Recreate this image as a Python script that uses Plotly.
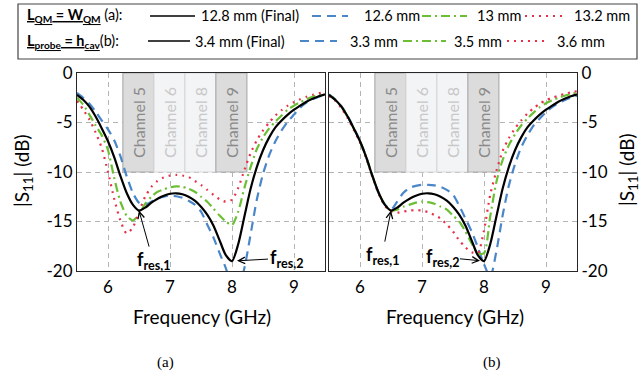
import plotly.graph_objects as go

W, H = 642, 372

# ---------------- data ----------------
freq = [5.5, 5.6, 5.7, 5.8, 5.9, 6.0, 6.1, 6.2, 6.3, 6.4, 6.5, 6.6, 6.7, 6.8, 6.9,
        7.0, 7.1, 7.2, 7.3, 7.4, 7.5, 7.6, 7.7, 7.8, 7.9, 8.0, 8.1, 8.2, 8.3, 8.4,
        8.5, 8.6, 8.7, 8.8, 8.9, 9.0, 9.1, 9.2, 9.3, 9.4, 9.5]

# Final design (same curve in both panels)
s11_final = [-2.2, -2.7, -3.4, -4.4, -5.6, -6.9, -8.5, -10.4, -12.1, -13.3, -13.9, -13.6, -13.1, -12.7, -12.4,
             -12.2, -12.15, -12.25, -12.5, -12.9, -13.5, -14.3, -15.4, -16.9, -18.4, -19.0, -17.3, -14.5, -11.7, -9.5,
             -7.8, -6.5, -5.5, -4.8, -4.2, -3.7, -3.3, -2.9, -2.6, -2.35, -2.15]

# (a) L_QM = W_QM
s11_a_126 = [-2.0, -2.5, -3.1, -3.9, -4.8, -5.7, -6.8, -8.4, -10.4, -12.1, -13.1, -13.3, -13.0, -12.7, -12.5,
             -12.4, -12.45, -12.6, -12.9, -13.3, -14.0, -15.3, -16.6, -18.2, -19.7, -21.5, -21.8, -19.7, -16.3, -12.8,
             -10.2, -8.3, -6.9, -5.8, -4.9, -4.2, -3.5, -3.0, -2.65, -2.4, -2.15]
s11_a_130 = [-2.5, -3.2, -4.2, -5.3, -6.3, -7.8, -10.6, -13.0, -14.4, -14.9, -14.3, -13.2, -12.5, -12.0, -11.75,
             -11.55, -11.45, -11.5, -11.7, -12.0, -12.5, -13.0, -13.7, -14.4, -15.0, -15.35, -14.0, -11.6, -9.5, -7.7,
             -6.5, -5.6, -4.9, -4.3, -3.7, -3.3, -2.95, -2.65, -2.4, -2.2, -2.05]
s11_a_132 = [-2.8, -3.7, -4.7, -6.0, -7.6, -10.0, -12.7, -14.9, -16.2, -15.6, -14.0, -12.5, -11.5, -10.9, -10.55,
             -10.35, -10.3, -10.35, -10.5, -10.9, -11.3, -11.8, -12.3, -12.75, -13.0, -12.8, -11.6, -9.8, -8.1, -6.8,
             -5.8, -5.0, -4.3, -3.75, -3.3, -2.95, -2.65, -2.4, -2.2, -2.05, -1.95]

# (b) L_probe = h_cav
s11_b_33 = [-2.15, -2.65, -3.35, -4.35, -5.55, -6.85, -8.5, -10.4, -12.1, -13.3, -13.8, -13.0, -12.1, -11.6, -11.4,
            -11.3, -11.3, -11.35, -11.5, -11.8, -12.3, -13.4, -14.7, -16.0, -17.6, -19.3, -20.6, -18.0, -14.4, -11.4,
            -9.2, -7.5, -6.3, -5.3, -4.6, -3.95, -3.45, -3.05, -2.75, -2.5, -2.3]
s11_b_35 = [-2.2, -2.7, -3.4, -4.4, -5.6, -6.9, -8.5, -10.4, -12.1, -13.3, -13.9, -13.8, -13.5, -13.3, -13.1,
            -13.0, -13.05, -13.2, -13.5, -13.8, -14.4, -15.0, -16.0, -17.2, -18.2, -18.2, -14.5, -11.0, -8.8, -7.3,
            -6.2, -5.3, -4.6, -4.0, -3.45, -3.05, -2.75, -2.5, -2.3, -2.1, -2.0]
s11_b_36 = [-2.3, -2.8, -3.55, -4.55, -5.75, -7.0, -8.6, -10.5, -12.2, -13.4, -14.0, -14.1, -14.0, -13.9, -13.85,
            -13.9, -14.05, -14.35, -14.7, -15.3, -16.0, -16.9, -17.6, -18.1, -18.2, -15.9, -12.3, -9.9, -7.9, -6.6,
            -5.6, -4.8, -4.1, -3.55, -3.1, -2.75, -2.5, -2.3, -2.1, -1.95, -1.85]

channels = ["Channel 5", "Channel 6", "Channel 8", "Channel 9"]
ch_lo = [6.24, 6.74, 7.24, 7.74]
ch_hi = [6.74, 7.24, 7.74, 8.24]

x_ticks = [6, 7, 8, 9]
y_ticks = [-20, -15, -10, -5, 0]
y_ticktext = ["-20", "-15", "-10", "-5", "0"]

legend_a = ["12.8 mm (Final)", "12.6 mm", "13 mm", "13.2 mm"]
legend_b = ["3.4 mm (Final)", "3.3 mm", "3.5 mm", "3.6 mm"]

# ---------------- styles ----------------
BLACK = "#000000"
BLUE = "#4a86c8"
GREEN = "#6cbf35"
RED = "#e8304a"
styles = [
    dict(color=BLACK, width=2.2, dash="solid"),
    dict(color=BLUE, width=2.2, dash="9px,6px"),
    dict(color=GREEN, width=2.2, dash="9px,4px,2px,4px"),
    dict(color=RED, width=2.2, dash="2px,5px"),
]
FONT = "Lato"

def px(x):
    return x / W

def py(y):
    return 1 - y / H

fig = go.Figure()

series_a = [s11_final, s11_a_126, s11_a_130, s11_a_132]
series_b = [s11_final, s11_b_33, s11_b_35, s11_b_36]
for idx in [1, 2, 3, 0]:
    fig.add_trace(go.Scatter(x=freq, y=series_a[idx], mode="lines", line=styles[idx],
                             line_shape="spline", line_smoothing=0.7, xaxis="x", yaxis="y",
                             showlegend=False, hoverinfo="skip"))
for idx in [1, 2, 3, 0]:
    fig.add_trace(go.Scatter(x=freq, y=series_b[idx], mode="lines", line=styles[idx],
                             line_shape="spline", line_smoothing=0.7, xaxis="x2", yaxis="y2",
                             showlegend=False, hoverinfo="skip"))

shapes = []
annotations = []

def text(x, y, s, font, **kw):
    d = dict(xref="paper", yref="paper", x=px(x), y=py(y), text=s, showarrow=False,
             xanchor="center", yanchor="middle", font=font)
    d.update(kw)
    return d

# channel boxes
dark = [True, False, False, True]
for xr, yr in [("x", "y"), ("x2", "y2")]:
    for name, lo, hi, d in zip(channels, ch_lo, ch_hi, dark):
        shapes.append(dict(type="rect", xref=xr, yref=yr, x0=lo, x1=hi, y0=-10, y1=0,
                           fillcolor="#dcdcdc" if d else "#f3f4f6",
                           line=dict(color="#adadad" if d else "#d9d9d9", width=1.2),
                           layer="between"))
        annotations.append(dict(xref=xr, yref=yr, x=(lo + hi) / 2, y=-5, text=name, textangle=-90,
                                showarrow=False, xanchor="center", yanchor="middle",
                                font=dict(family=FONT, size=16, color="#8a8a8a" if d else "#c8c8c8")))

# f_res annotations
ann_font = dict(family=FONT, size=18, color="black")
arrow_kw = dict(showarrow=True, arrowhead=5, arrowsize=1.3, arrowwidth=1, arrowcolor="black",
                xanchor="center", yanchor="middle", font=ann_font)
annotations += [
    dict(xref="x", yref="y", x=6.5, y=-13.9, text="<b>f<sub>res,1</sub></b>", ax=14, ay=50, **arrow_kw),
    dict(xref="x", yref="y", x=8.0, y=-19.0, text="<b>f<sub>res,2</sub></b>", ax=54, ay=-3,
         standoff=5, **arrow_kw),
    dict(xref="x2", yref="y2", x=6.5, y=-13.9, text="<b>f<sub>res,1</sub></b>", ax=-9, ay=45, **arrow_kw),
    dict(xref="x2", yref="y2", x=8.0, y=-19.0, text="<b>f<sub>res,2</sub></b>", ax=-42, ay=-4,
         standoff=4, **arrow_kw),
]

# axis titles and captions
title_font = dict(family=FONT, size=19, color="black")
cap_font = dict(family="Liberation Serif", size=15, color="black")
annotations += [
    text(202, 316, "Frequency (GHz)", title_font),
    text(455, 316, "Frequency (GHz)", title_font),
    text(23, 170, "|S<sub>11</sub>| (dB)", title_font, textangle=-90),
    text(628, 170, "|S<sub>11</sub>| (dB)", title_font, textangle=-90),
    text(166, 362, "(a)", cap_font),
    text(492, 362, "(b)", cap_font),
]

# legend box
shapes.append(dict(type="rect", xref="paper", yref="paper", x0=px(18), x1=px(637), y0=py(59), y1=py(4),
                   line=dict(color="#444", width=1.2), fillcolor="white", layer="above"))
leg_font = dict(family=FONT, size=14.5, color="black")
rows = [
    (16, "<b><u>L<sub>QM</sub> = W<sub>QM</sub></u></b> (a):", legend_a,
     [(150, 195), (312, 348), (422, 467), (525, 562)], [199, 362, 475, 572]),
    (41, "<b><u>L<sub>probe</sub> = h<sub>cav</sub></u></b>(b):", legend_b,
     [(148, 190), (300, 337), (403, 446), (507, 548)], [193, 348, 452, 555]),
]
for yrow, head, labels, segs, txs in rows:
    annotations.append(text(25, yrow, head, leg_font, xanchor="left"))
    for (x0, x1), tx, lab, st in zip(segs, txs, labels, styles):
        shapes.append(dict(type="line", xref="paper", yref="paper", x0=px(x0), x1=px(x1),
                           y0=py(yrow), y1=py(yrow),
                           line=dict(color=st["color"], width=2 if st["color"] != BLACK else 1.6,
                                     dash=st["dash"]), layer="above"))
        annotations.append(text(tx, yrow, lab, leg_font, xanchor="left"))

tick_font = dict(family=FONT, size=17, color="black")
common_x = dict(range=[5.5, 9.5], tickvals=x_ticks, showgrid=True, gridcolor="#b4b4b4", griddash="5px,4px",
                gridwidth=1, showline=True, linecolor="#262626", linewidth=1.2, mirror=True, ticks="",
                tickfont=tick_font, zeroline=False, fixedrange=True, automargin=False)
common_y = dict(range=[-20, 0], tickvals=y_ticks, ticktext=y_ticktext, showgrid=True, gridcolor="#b4b4b4",
                griddash="5px,4px", gridwidth=1, showline=True, linecolor="#262626", linewidth=1.2,
                mirror=True, ticks="", tickfont=tick_font, zeroline=False, fixedrange=True, automargin=False)

fig.update_layout(
    width=W, height=H,
    margin=dict(l=0, r=0, t=0, b=0, pad=0),
    paper_bgcolor="white", plot_bgcolor="white",
    xaxis=dict(domain=[px(77), px(325)], anchor="y", **common_x),
    yaxis=dict(domain=[py(271), py(73)], anchor="x", side="left", **common_y),
    xaxis2=dict(domain=[px(329), px(577)], anchor="y2", **common_x),
    yaxis2=dict(domain=[py(271), py(73)], anchor="x2", side="right", **common_y),
    shapes=shapes,
    annotations=annotations,
    showlegend=False,
)

fig.write_html("out.html", config={"displayModeBar": False},
               post_script="document.body.style.margin='0';")
